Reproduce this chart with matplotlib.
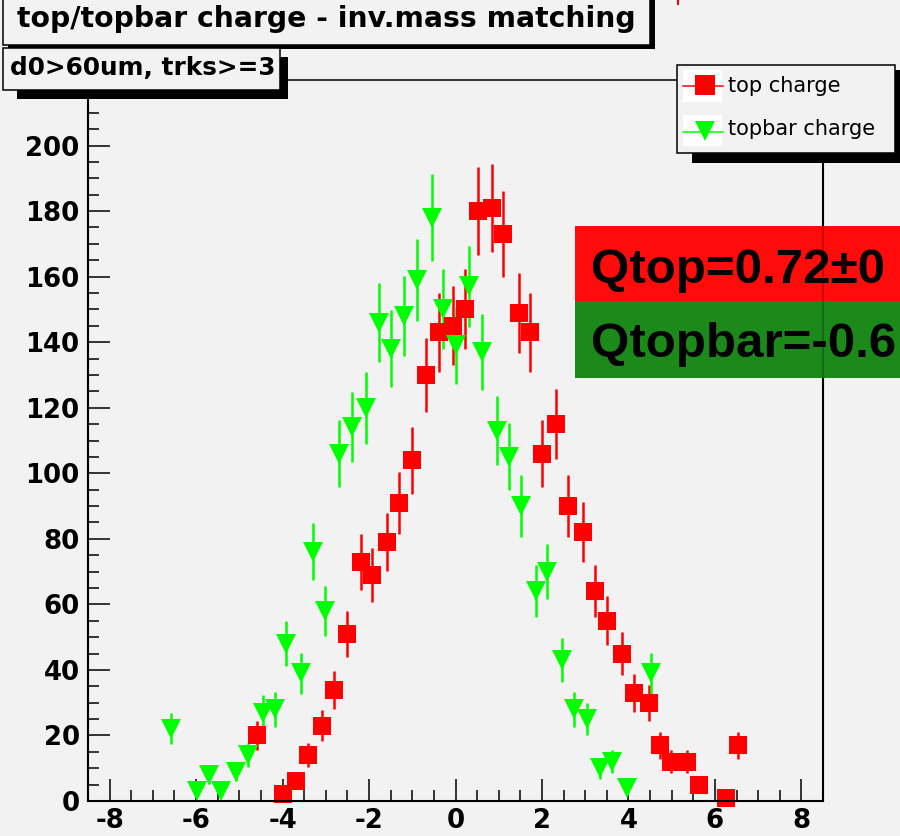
import matplotlib
matplotlib.use('Agg')
import matplotlib.pyplot as plt
from matplotlib.patches import Rectangle
from matplotlib.lines import Line2D
from matplotlib.ticker import MultipleLocator

# ---------------- data ----------------
top_x = [-4.59, -4.00, -3.69, -3.42, -3.09, -2.80, -2.52, -2.18, -1.93, -1.58,
         -1.30, -1.01, -0.68, -0.38, -0.05, 0.23, 0.52, 0.84, 1.11, 1.46,
         1.73, 2.00, 2.33, 2.61, 2.95, 3.23, 3.51, 3.85, 4.12, 4.47,
         4.73, 4.99, 5.35, 5.63, 6.25, 6.54]
top_y = [20, 2, 6, 14, 23, 34, 51, 73, 69, 79,
         91, 104, 130, 143, 145, 150, 180, 181, 173, 149,
         143, 106, 115, 90, 82, 64, 55, 45, 33, 30,
         17, 12, 12, 5, 1, 17]
top_err = [4.5, 1.4, 2.4, 3.7, 4.8, 5.8, 7.1, 8.5, 8.3, 8.9,
           9.5, 10.2, 11.4, 12.0, 12.0, 12.2, 13.4, 13.5, 13.2, 12.2,
           12.0, 10.3, 10.7, 9.5, 9.1, 8.0, 7.4, 6.7, 5.7, 5.5,
           4.1, 3.5, 3.5, 2.2, 1.0, 4.1]

bar_x = [-6.58, -5.97, -5.69, -5.43, -5.08, -4.81, -4.46, -4.17, -3.91, -3.57,
         -3.30, -3.01, -2.69, -2.40, -2.07, -1.78, -1.50, -1.18, -0.90, -0.55,
         -0.28, 0.00, 0.32, 0.62, 0.97, 1.24, 1.51, 1.86, 2.12, 2.47,
         2.74, 3.03, 3.35, 3.63, 3.97, 4.52]
bar_y = [22, 3, 8, 3, 9, 14, 27, 28, 48, 39,
         76, 58, 106, 114, 120, 146, 138, 148, 159, 178,
         150, 139, 157, 137, 113, 105, 90, 64, 70, 43,
         28, 25, 10, 12, 4, 39]
bar_err = [4.7, 1.7, 2.8, 1.7, 3.0, 3.7, 5.2, 5.3, 6.9, 6.2,
           8.7, 7.6, 10.3, 10.7, 11.0, 12.1, 11.7, 12.2, 12.6, 13.3,
           12.2, 11.8, 12.5, 11.7, 10.6, 10.2, 9.5, 8.0, 8.4, 6.6,
           5.3, 5.0, 3.2, 3.5, 2.0, 6.2]

x_ticks = [-8, -6, -4, -2, 0, 2, 4, 6, 8]
y_ticks = [0, 20, 40, 60, 80, 100, 120, 140, 160, 180, 200]

title = "top/topbar charge - inv.mass matching"
subtitle = "d0>60um, trks>=3"
legend_labels = ["top charge", "topbar charge"]
qtop_text = "Qtop=0.72\u00b10"
qbar_text = "Qtopbar=-0.6"

# ---------------- figure ----------------
plt.rcParams['font.family'] = ['DejaVu Sans']
plt.rcParams['font.weight'] = 'bold'
plt.rcParams['axes.unicode_minus'] = False

BG = '#f2f2f2'
W, H = 900, 836
fig = plt.figure(figsize=(9, 8.36), dpi=100, facecolor=BG)


def fx(x):
    return x / W


def fy(y):
    return 1 - y / H


def rect(x0, y0, x1, y1, **kw):
    r = Rectangle((x0 / W, 1 - y1 / H), (x1 - x0) / W, (y1 - y0) / H,
                  transform=fig.transFigure, **kw)
    fig.add_artist(r)
    return r


ax = fig.add_axes([fx(88), fy(801), fx(823) - fx(88), fy(80) - fy(801)])
ax.set_facecolor(BG)
ax.set_xlim(-8.5, 8.5)
ax.set_ylim(0, 220)

for s in ['left', 'bottom', 'right']:
    ax.spines[s].set_linewidth(1.5)
ax.spines['top'].set_linewidth(1.1)

ax.set_xticks(x_ticks)
ax.set_yticks(y_ticks)
ax.xaxis.set_minor_locator(MultipleLocator(0.5))
ax.yaxis.set_minor_locator(MultipleLocator(5))
ax.tick_params(which='major', direction='in', length=16, width=1.1,
               top=False, right=False, labelsize=18.7)
ax.tick_params(which='minor', direction='in', length=8, width=1.1,
               top=False, right=False)
ax.tick_params(axis='y', pad=6)
ax.tick_params(axis='x', pad=5)

c1 = ax.errorbar(top_x, top_y, yerr=top_err, fmt='s', color='#ff0000',
                 ms=13, mew=0, elinewidth=1.8, capsize=0)
c2 = ax.errorbar(bar_x, bar_y, yerr=bar_err, fmt='v', color='#00ff00',
                 ms=14, mew=0, elinewidth=1.8, capsize=0)
for c in (c1, c2):
    c.lines[0].set_clip_on(False)
    for b in c.lines[2]:
        b.set_clip_on(False)

# ---------------- title boxes ----------------
rect(8, -10, 655, 49, facecolor='black', edgecolor='none', zorder=2)
rect(3, -10, 650, 45, facecolor=BG, edgecolor='black', lw=1.1, zorder=2.1)
fig.text(fx(17), fy(27), title, fontsize=20.3, fontweight='bold',
         va='baseline', ha='left', zorder=2.2)

rect(17, 57, 288, 99, facecolor='black', edgecolor='none', zorder=2.3)
rect(3, 48, 280, 90, facecolor=BG, edgecolor='black', lw=1.1, zorder=2.4)
fig.text(fx(10), fy(75), subtitle, fontsize=17.8, fontweight='bold',
         va='baseline', ha='left', zorder=2.5)

# ---------------- legend ----------------
rect(692, 70, 905, 163, facecolor='black', edgecolor='none', zorder=2)
rect(677, 65, 895, 153, facecolor=BG, edgecolor='black', lw=1.1, zorder=2.1)
rect(683, 70, 722, 102, facecolor='white', edgecolor='none', zorder=2.2)
rect(683, 115, 722, 146, facecolor='white', edgecolor='none', zorder=2.2)
fig.add_artist(Line2D([fx(683), fx(723)], [fy(86), fy(86)], color='#ff0000',
                      lw=1.1, transform=fig.transFigure, zorder=2.3))
fig.add_artist(Line2D([fx(705)], [fy(85)], marker='s', ms=14.5, mew=0,
                      color='#ff0000', ls='none',
                      transform=fig.transFigure, zorder=2.4))
fig.add_artist(Line2D([fx(683), fx(723)], [fy(132), fy(132)], color='#00ff00',
                      lw=1.1, transform=fig.transFigure, zorder=2.3))
fig.add_artist(Line2D([fx(705)], [fy(131)], marker='v', ms=14.5, mew=0,
                      color='#00ff00', ls='none',
                      transform=fig.transFigure, zorder=2.4))
fig.text(fx(728), fy(91.5), legend_labels[0], fontsize=15, fontweight='normal',
         va='baseline', ha='left', zorder=2.5)
fig.text(fx(728), fy(135), legend_labels[1], fontsize=15, fontweight='normal',
         va='baseline', ha='left', zorder=2.5)

# ---------------- result boxes ----------------
rect(575, 226, 905, 301.5, facecolor='#ff0b0b', edgecolor='none', zorder=3)
rect(575, 301.5, 905, 378, facecolor='#1b8a1b', edgecolor='none', zorder=3)
fig.add_artist(Line2D([fx(823), fx(823)], [fy(226), fy(378)], color='black',
                      alpha=0.22, lw=1.5, transform=fig.transFigure, zorder=3.1))
fig.text(fx(591), fy(283), qtop_text, fontsize=35.5, fontweight='bold',
         family=['Liberation Sans', 'DejaVu Sans'], color='black',
         va='baseline', ha='left', zorder=3.2)
fig.text(fx(591), fy(357), qbar_text, fontsize=35.5, fontweight='bold',
         family=['Liberation Sans', 'DejaVu Sans'], color='black',
         va='baseline', ha='left', zorder=3.2)

# small red mark at top edge
fig.add_artist(Line2D([fx(678), fx(678)], [fy(0), fy(4)], color='#ff0000',
                      lw=1.5, transform=fig.transFigure, zorder=3))

fig.savefig('out.png', dpi=100, facecolor=BG)
